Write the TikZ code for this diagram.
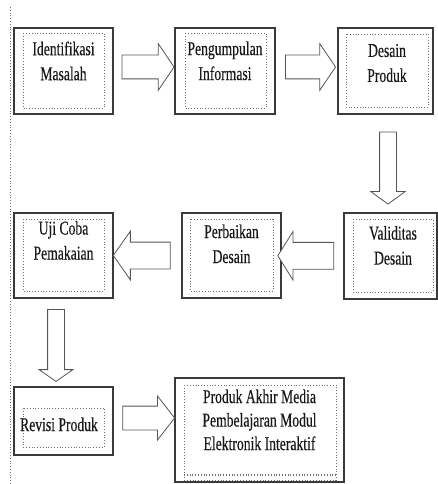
\documentclass[tikz,border=0pt]{standalone}
\usepackage{fontspec}
\setmainfont[FakeStretch=0.70,FakeBold=0.35]{Liberation Serif}
\usetikzlibrary{shapes.arrows}
\definecolor{boxline}{HTML}{3A3A3A}
\definecolor{arrowline}{HTML}{555555}
\definecolor{dotline}{HTML}{6E6E6E}
\begin{document}
\begin{tikzpicture}[x=1pt,y=1pt,inner sep=0pt,outer sep=0pt,
stepbox/.style={draw=boxline,rectangle,line width=1.2pt,minimum width=99pt,minimum height=86pt},
dotframe/.style={draw=dotline,line width=0.8pt,dotted},
steptext/.style={anchor=north,align=center,text=black!90,font=\fontsize{19.5}{25}\selectfont},
fatarrow/.style={draw=arrowline,fill=white,line width=0.8pt,single arrow,inner xsep=0pt,
  single arrow tip angle=112,minimum height=52pt,inner ysep=11.5pt,single arrow head extend=11.5pt}]
\useasboundingbox (0,0) rectangle (438,-484);

\draw[dotframe] (10,-7) -- (10,-484);

% baris pertama
\draw (63.5,-71) node[stepbox] (identifikasi) {};
\draw (225,-71) node[stepbox,minimum width=100pt] (pengumpulan) {};
\draw (385.5,-71) node[stepbox,minimum width=95pt] (desain) {};
\draw[dotframe] ([shift={(9,-5)}]identifikasi.north west) rectangle ([shift={(-9,6)}]identifikasi.south east);
\draw[dotframe] ([shift={(10,-5)}]pengumpulan.north west) rectangle ([shift={(-9,6)}]pengumpulan.south east);
\draw[dotframe] ([shift={(8,-6)}]desain.north west) rectangle ([shift={(-5,7)}]desain.south east);
\draw (63.5,-41.5) node[steptext] (identifikasi-txt) {Identifikasi\\Masalah};
\draw (225,-41.5) node[steptext] (pengumpulan-txt) {Pengumpulan\\Informasi};
\draw (387,-44) node[steptext] (desain-txt) {Desain\\Produk};

% baris kedua
\draw (390.5,-256) node[stepbox,minimum width=93pt] (validitas) {};
\draw (231.5,-255.5) node[stepbox,minimum height=85pt] (perbaikan) {};
\draw (63.5,-255.5) node[stepbox,minimum height=85pt] (ujicoba) {};
\draw[dotframe] ([shift={(9,-6)}]validitas.north west) rectangle ([shift={(-4,7)}]validitas.south east);
\draw[dotframe] ([shift={(8,-6)}]perbaikan.north west) rectangle ([shift={(-8,7)}]perbaikan.south east);
\draw[dotframe] ([shift={(9,-6)}]ujicoba.north west) rectangle ([shift={(-9,7)}]ujicoba.south east);
\draw (393,-226) node[steptext] (validitas-txt) {Validitas\\Desain};
\draw (231.5,-224.5) node[steptext] (perbaikan-txt) {Perbaikan\\Desain};
\draw (63.5,-221) node[steptext] (ujicoba-txt) {Uji Coba\\Pemakaian};

% baris ketiga
\draw (63.5,-421) node[stepbox,minimum height=68pt] (revisi) {};
\draw (259.5,-430) node[stepbox,minimum width=169pt,minimum height=104pt] (produkakhir) {};
\draw[dotframe] ([shift={(9,-21)}]revisi.north west) rectangle ([shift={(-9,8)}]revisi.south east);
\draw[dotframe] ([shift={(9,-7)}]produkakhir.north west) rectangle ([shift={(-8,2)}]produkakhir.south east);
\draw[dotframe] ([shift={(9,8)}]produkakhir.south west) -- ([shift={(-8,8)}]produkakhir.south east);
\draw[dotframe] ([shift={(9,6.5)}]produkakhir.south west) -- ([shift={(-8,6.5)}]produkakhir.south east);
\draw (59,-417.5) node[steptext] (revisi-txt) {Revisi Produk};
\draw (259.5,-389.5) node[steptext,font=\fontsize{19.5}{23.5}\selectfont] (produkakhir-txt) {Produk Akhir Media\\Pembelajaran Modul\\Elektronik Interaktif};

% panah
\path (identifikasi.east) -- (pengumpulan.west) node[midway,fatarrow,yshift=4pt] (panah1) {};
\path (pengumpulan.east) -- (desain.west) node[midway,fatarrow,yshift=4pt,minimum height=50pt] (panah2) {};
\path (desain.south) -- (validitas.north) node[midway,fatarrow,rotate=-90,xshift=1.5pt,
  minimum height=72pt,inner ysep=8pt,single arrow head extend=9pt,single arrow tip angle=108] (panah3) {};
\path (validitas.west) -- (perbaikan.east) node[midway,fatarrow,rotate=180,xshift=2.5pt,
  minimum height=56pt,inner ysep=13pt,single arrow head extend=11pt,single arrow tip angle=116] (panah4) {};
\path (perbaikan.west) -- (ujicoba.east) node[midway,fatarrow,rotate=180,xshift=1pt,
  minimum height=57pt,inner ysep=13pt,single arrow head extend=11pt,single arrow tip angle=110] (panah5) {};
\path (ujicoba.south) -- (revisi.north) node[midway,fatarrow,rotate=-90,yshift=-7.5pt,
  minimum height=72pt,inner ysep=8pt,single arrow head extend=8.5pt,single arrow tip angle=110] (panah6) {};
\path (revisi.east) -- (produkakhir.west) node[midway,fatarrow,yshift=7.5pt,
  inner ysep=11.5pt,single arrow head extend=10pt,single arrow tip angle=104] (panah7) {};
\end{tikzpicture}
\end{document}
